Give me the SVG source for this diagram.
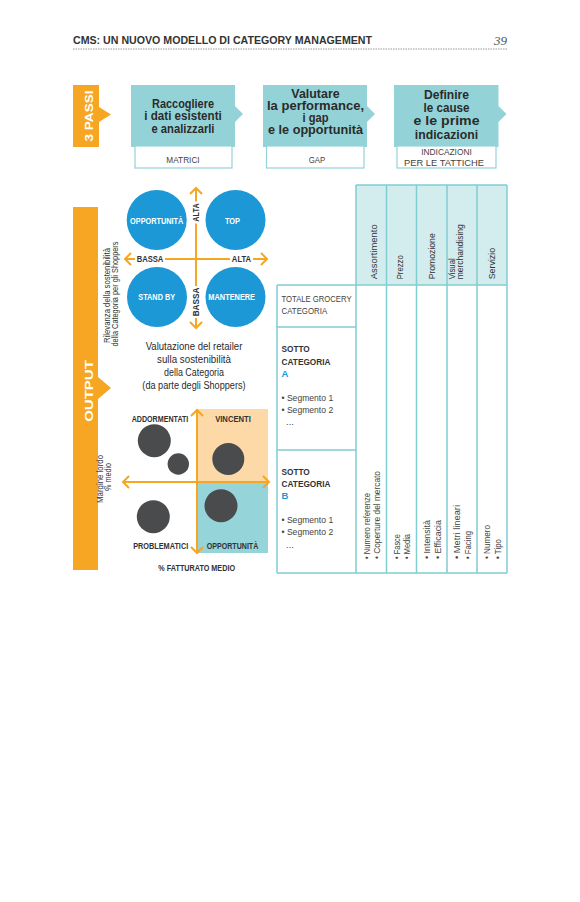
<svg xmlns="http://www.w3.org/2000/svg" width="580" height="902" viewBox="0 0 580 902">
<style>
text{font-family:"Liberation Sans",Arial,sans-serif;fill:#333}
.b{font-weight:bold}
.step{font-size:12.5px;font-weight:bold;fill:#2b2b2b;text-anchor:middle}
.sub{font-size:9px;fill:#444;text-anchor:middle}
.wl{font-size:8.5px;font-weight:bold;fill:#fff;text-anchor:middle}
.ax{font-size:8.5px;font-weight:bold;fill:#333;text-anchor:middle}
.cap{font-size:10px;fill:#2b2b2b;text-anchor:middle}
.th{font-size:9px;fill:#333}
.tb{font-size:9px;fill:#444}
.cell{font-size:9.5px;fill:#444}
.axis{stroke:#f5a623;stroke-width:2;fill:none}
.teal{fill:#93d3d8}
.grid{stroke:#80cdd2;stroke-width:1.5;fill:none}
.dot{fill:#4a4b4d}
.blue{fill:#1b98d5}
</style>

<g id="header">
  <text x="73" y="44" class="b" font-size="10.5" fill="#333" textLength="299" lengthAdjust="spacingAndGlyphs">CMS: UN NUOVO MODELLO DI CATEGORY MANAGEMENT</text>
  <text x="507" y="45" font-size="13" font-style="italic" text-anchor="end" style="font-family:'Liberation Serif',serif;fill:#555">39</text>
  <line x1="73" y1="49" x2="507" y2="49" stroke="#999" stroke-width="1" stroke-dasharray="1.5 1"/>
</g>

<g id="tre-passi">
  <polygon points="73,85 99,85 99,107 111,114.5 99,122 99,147 73,147" fill="#f6a623"/>
  <text class="b" font-size="11" text-anchor="middle" transform="translate(93,116) rotate(-90)" textLength="51" lengthAdjust="spacingAndGlyphs" style="fill:#fff">3 PASSI</text>
</g>

<g id="step1">
  <polygon class="teal" points="131,85 235,85 235,106 243,114 235,122 235,147 131,147"/>
  <rect x="135" y="146" width="97" height="22" fill="#fff" stroke="#93d3d8" stroke-width="1.2"/>
  <text class="step" x="183" y="108" textLength="62" lengthAdjust="spacingAndGlyphs">Raccogliere</text>
  <text class="step" x="183" y="120.4" textLength="77.5" lengthAdjust="spacingAndGlyphs">i dati esistenti</text>
  <text class="step" x="183" y="132.8" textLength="63" lengthAdjust="spacingAndGlyphs">e analizzarli</text>
  <text class="sub" x="183" y="162.5" textLength="33.3" lengthAdjust="spacingAndGlyphs">MATRICI</text>
</g>

<g id="step2">
  <polygon class="teal" points="263,85 367,85 367,106 375,114 367,122 367,147 263,147"/>
  <rect x="266.5" y="146" width="97.5" height="22" fill="#fff" stroke="#93d3d8" stroke-width="1.2"/>
  <text class="step" x="315.5" y="97.5" textLength="48.3" lengthAdjust="spacingAndGlyphs">Valutare</text>
  <text class="step" x="315.5" y="109.8" textLength="97" lengthAdjust="spacingAndGlyphs">la performance,</text>
  <text class="step" x="315.5" y="122.1" textLength="26" lengthAdjust="spacingAndGlyphs">i gap</text>
  <text class="step" x="315.5" y="134.4" textLength="95" lengthAdjust="spacingAndGlyphs">e le opportunità</text>
  <text class="sub" x="317" y="162.5" textLength="16.5" lengthAdjust="spacingAndGlyphs">GAP</text>
</g>

<g id="step3">
  <polygon class="teal" points="394,85 498.5,85 498.5,106 506.5,114 498.5,122 498.5,147 394,147"/>
  <rect x="397" y="146" width="99" height="22" fill="#fff" stroke="#93d3d8" stroke-width="1.2"/>
  <text class="step" x="446.5" y="99" textLength="45" lengthAdjust="spacingAndGlyphs">Definire</text>
  <text class="step" x="446.5" y="112" textLength="46" lengthAdjust="spacingAndGlyphs">le cause</text>
  <text class="step" x="446.5" y="125.3" textLength="66" lengthAdjust="spacingAndGlyphs">e le prime</text>
  <text class="step" x="446.5" y="138.5" textLength="63.3" lengthAdjust="spacingAndGlyphs">indicazioni</text>
  <text class="sub" x="446.5" y="155" textLength="50.7" lengthAdjust="spacingAndGlyphs">INDICAZIONI</text>
  <text class="sub" x="444" y="166" textLength="80" lengthAdjust="spacingAndGlyphs">PER LE TATTICHE</text>
</g>

<g id="output">
  <polygon points="73,207 98,207 98,377 111,388 98,399 98,570 73,570" fill="#f6a623"/>
  <text class="b" font-size="11.5" text-anchor="middle" transform="translate(92.5,391) rotate(-90)" textLength="61.7" lengthAdjust="spacingAndGlyphs" style="fill:#fff">OUTPUT</text>
</g>

<g id="matrice-sostenibilita">
  <text class="th" font-size="8.5" text-anchor="middle" transform="translate(110.3,295.5) rotate(-90)" textLength="95" lengthAdjust="spacingAndGlyphs">Rilevanza della sostenibilità</text>
  <text class="th" font-size="8.5" text-anchor="middle" transform="translate(118,294) rotate(-90)" textLength="105" lengthAdjust="spacingAndGlyphs">della Categoria per gli Shoppers</text>
  <line class="axis" x1="196" y1="188" x2="196" y2="328"/>
  <line class="axis" x1="125" y1="259" x2="267" y2="259"/>
  <polyline class="axis" points="190,194 196,188 202,194"/>
  <polyline class="axis" points="190,322 196,328 202,322"/>
  <polyline class="axis" points="131,253 125,259 131,265"/>
  <polyline class="axis" points="261,253 267,259 261,265"/>
  <rect x="191" y="201.5" width="10" height="22" fill="#fff"/>
  <rect x="191" y="286" width="10" height="32" fill="#fff"/>
  <rect x="135" y="254" width="30" height="10" fill="#fff"/>
  <rect x="230" y="254" width="23" height="10" fill="#fff"/>
  <text class="ax" transform="translate(199,212.5) rotate(-90)" textLength="18.3" lengthAdjust="spacingAndGlyphs">ALTA</text>
  <text class="ax" transform="translate(199,302) rotate(-90)" textLength="28.7" lengthAdjust="spacingAndGlyphs">BASSA</text>
  <text class="ax" x="150" y="262" textLength="26.7" lengthAdjust="spacingAndGlyphs">BASSA</text>
  <text class="ax" x="241.5" y="262" textLength="19.3" lengthAdjust="spacingAndGlyphs">ALTA</text>
  <g id="c-opportunita"><circle class="blue" cx="156.7" cy="220" r="30"/><text class="wl" x="156.7" y="223.5" textLength="53.3" lengthAdjust="spacingAndGlyphs">OPPORTUNITÀ</text></g>
  <g id="c-top"><circle class="blue" cx="235.5" cy="220" r="30"/><text class="wl" x="232.5" y="223.5" textLength="15" lengthAdjust="spacingAndGlyphs">TOP</text></g>
  <g id="c-standby"><circle class="blue" cx="157" cy="297" r="30"/><text class="wl" x="156.7" y="300.3" textLength="36.7" lengthAdjust="spacingAndGlyphs">STAND BY</text></g>
  <g id="c-mantenere"><circle class="blue" cx="235.5" cy="297" r="30"/><text class="wl" x="231.7" y="300.3" textLength="46.7" lengthAdjust="spacingAndGlyphs">MANTENERE</text></g>
  <text class="cap" x="194" y="350" textLength="96.7" lengthAdjust="spacingAndGlyphs">Valutazione del retailer</text>
  <text class="cap" x="194" y="363" textLength="74" lengthAdjust="spacingAndGlyphs">sulla sostenibilità</text>
  <text class="cap" x="194" y="376" textLength="60" lengthAdjust="spacingAndGlyphs">della Categoria</text>
  <text class="cap" x="194" y="389" textLength="103.3" lengthAdjust="spacingAndGlyphs">(da parte degli Shoppers)</text>
</g>

<g id="matrice-margine">
  <rect x="197" y="409" width="71" height="73" fill="#fcd9a7"/>
  <rect x="197" y="482" width="71" height="71" fill="#95d4d9"/>
  <text class="th" font-size="8.5" text-anchor="middle" transform="translate(103,479) rotate(-90)" textLength="48" lengthAdjust="spacingAndGlyphs">Margine lordo</text>
  <text class="th" font-size="8.5" text-anchor="middle" transform="translate(110.7,477) rotate(-90)" textLength="28" lengthAdjust="spacingAndGlyphs">% medio</text>
  <line class="axis" x1="197" y1="410" x2="197" y2="553"/>
  <line class="axis" x1="123" y1="482" x2="269" y2="482"/>
  <polyline class="axis" points="191,416 197,410 203,416"/>
  <polyline class="axis" points="191,547 197,553 203,547"/>
  <polyline class="axis" points="129,476 123,482 129,488"/>
  <polyline class="axis" points="263,476 269,482 263,488"/>
  <circle class="dot" cx="154.3" cy="440.7" r="16.5"/>
  <circle class="dot" cx="178.3" cy="464" r="10.7"/>
  <circle class="dot" cx="228.3" cy="459" r="16"/>
  <circle class="dot" cx="221" cy="505.7" r="16.5"/>
  <circle class="dot" cx="153.3" cy="516.7" r="16.5"/>
  <text class="ax" x="160" y="422" textLength="56.7" lengthAdjust="spacingAndGlyphs">ADDORMENTATI</text>
  <text class="ax" x="233" y="422" textLength="35.7" lengthAdjust="spacingAndGlyphs">VINCENTI</text>
  <text class="ax" x="160.7" y="549" textLength="55" lengthAdjust="spacingAndGlyphs">PROBLEMATICI</text>
  <text class="ax" x="232.5" y="549" textLength="51.7" lengthAdjust="spacingAndGlyphs">OPPORTUNITÀ</text>
  <text class="ax" x="196.7" y="571" textLength="76.7" lengthAdjust="spacingAndGlyphs">% FATTURATO MEDIO</text>
</g>

<g id="tabella">
  <rect x="356" y="185" width="151" height="100" fill="#d3ecee"/>
  <g class="grid">
    <line x1="356" y1="185" x2="507" y2="185"/>
    <line x1="356" y1="185" x2="356" y2="573"/>
    <line x1="386.5" y1="185" x2="386.5" y2="573"/>
    <line x1="416.5" y1="185" x2="416.5" y2="573"/>
    <line x1="447" y1="185" x2="447" y2="573"/>
    <line x1="477" y1="185" x2="477" y2="573"/>
    <line x1="507" y1="185" x2="507" y2="573"/>
    <line x1="277" y1="285" x2="507" y2="285"/>
    <line x1="277" y1="573" x2="507" y2="573"/>
    <line x1="277" y1="285" x2="277" y2="573"/>
    <line x1="277" y1="327" x2="356" y2="327"/>
    <line x1="277" y1="450" x2="356" y2="450"/>
  </g>
  <text class="th" transform="translate(376.6,279.3) rotate(-90)" textLength="55" lengthAdjust="spacingAndGlyphs">Assortimento</text>
  <text class="th" transform="translate(402.6,279.3) rotate(-90)" textLength="24" lengthAdjust="spacingAndGlyphs">Prezzo</text>
  <text class="th" transform="translate(435,279.3) rotate(-90)" textLength="46" lengthAdjust="spacingAndGlyphs">Promozione</text>
  <text class="th" transform="translate(454.5,279.3) rotate(-90)" textLength="21" lengthAdjust="spacingAndGlyphs">Visual</text>
  <text class="th" transform="translate(462.5,279.3) rotate(-90)" textLength="55" lengthAdjust="spacingAndGlyphs">merchandising</text>
  <text class="th" transform="translate(495,279.3) rotate(-90)" textLength="31.5" lengthAdjust="spacingAndGlyphs">Servizio</text>

  <text class="cell" x="281.5" y="302" textLength="70" lengthAdjust="spacingAndGlyphs">TOTALE GROCERY</text>
  <text class="cell" x="281.5" y="313.5" textLength="45.7" lengthAdjust="spacingAndGlyphs">CATEGORIA</text>

  <text class="cell b" x="281.5" y="352" textLength="28.3" lengthAdjust="spacingAndGlyphs" style="fill:#333">SOTTO</text>
  <text class="cell b" x="281.5" y="364.5" textLength="49" lengthAdjust="spacingAndGlyphs" style="fill:#333">CATEGORIA</text>
  <text class="cell b" x="281.5" y="377" style="fill:#1b98d5">A</text>
  <text class="cell" x="281.5" y="400.5" textLength="51.7" lengthAdjust="spacingAndGlyphs">• Segmento 1</text>
  <text class="cell" x="281.5" y="412.5" textLength="51.7" lengthAdjust="spacingAndGlyphs">• Segmento 2</text>
  <text class="cell" x="286" y="425" font-size="7">...</text>

  <text class="cell b" x="281.5" y="475" textLength="28.3" lengthAdjust="spacingAndGlyphs" style="fill:#333">SOTTO</text>
  <text class="cell b" x="281.5" y="487" textLength="49" lengthAdjust="spacingAndGlyphs" style="fill:#333">CATEGORIA</text>
  <text class="cell b" x="281.5" y="499" style="fill:#1b98d5">B</text>
  <text class="cell" x="281.5" y="523" textLength="51.7" lengthAdjust="spacingAndGlyphs">• Segmento 1</text>
  <text class="cell" x="281.5" y="534.5" textLength="51.7" lengthAdjust="spacingAndGlyphs">• Segmento 2</text>
  <text class="cell" x="286" y="547.5" font-size="7">...</text>

  <text class="tb" transform="translate(369.7,559) rotate(-90)" textLength="66" lengthAdjust="spacingAndGlyphs">• Numero referenze</text>
  <text class="tb" transform="translate(380.3,559) rotate(-90)" textLength="88" lengthAdjust="spacingAndGlyphs">• Coperture del mercato</text>
  <text class="tb" transform="translate(399.7,559) rotate(-90)" textLength="25" lengthAdjust="spacingAndGlyphs">• Fasce</text>
  <text class="tb" transform="translate(409.7,559) rotate(-90)" textLength="25" lengthAdjust="spacingAndGlyphs">• Media</text>
  <text class="tb" transform="translate(429.7,559) rotate(-90)" textLength="39" lengthAdjust="spacingAndGlyphs">• Intensità</text>
  <text class="tb" transform="translate(441.3,559) rotate(-90)" textLength="39" lengthAdjust="spacingAndGlyphs">• Efficacia</text>
  <text class="tb" transform="translate(459.7,559) rotate(-90)" textLength="54" lengthAdjust="spacingAndGlyphs">• Metri lineari</text>
  <text class="tb" transform="translate(471.3,559) rotate(-90)" textLength="28" lengthAdjust="spacingAndGlyphs">• Facing</text>
  <text class="tb" transform="translate(489.7,559) rotate(-90)" textLength="34" lengthAdjust="spacingAndGlyphs">• Numero</text>
  <text class="tb" transform="translate(501.3,559) rotate(-90)" textLength="20" lengthAdjust="spacingAndGlyphs">• Tipo</text>
</g>
</svg>
